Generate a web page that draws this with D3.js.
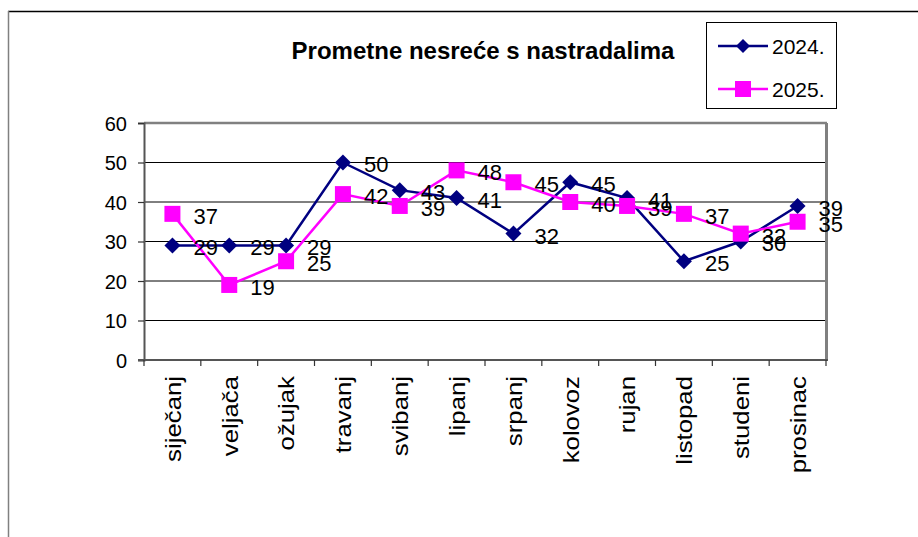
<!DOCTYPE html>
<html><head><meta charset="utf-8">
<script src="https://cdn.jsdelivr.net/npm/d3@7"></script>
<style>
html,body{margin:0;padding:0;background:#fff;}
svg{display:block;font-family:"Liberation Sans",Arial,sans-serif;}
</style></head>
<body><svg id="c" width="918" height="537"></svg>
<script>
const months = ["siječanj","veljača","ožujak","travanj","svibanj","lipanj","srpanj","kolovoz","rujan","listopad","studeni","prosinac"];
const series2024 = [29,29,29,50,43,41,32,45,41,25,30,39];
const series2025 = [37,19,25,42,39,48,45,40,39,37,32,35];
const seriesNames = ["2024.","2025."];
const yTicks = [0,10,20,30,40,50,60];
const title = "Prometne nesreće s nastradalima";

const svg = d3.select("#c");
const L = 144, R = 826, T = 123, B = 360;

// outer frame
svg.append("line").attr("x1",8).attr("x2",918).attr("y1",11.5).attr("y2",11.5).attr("stroke","#000").attr("stroke-width",1.5);
svg.append("line").attr("x1",8.5).attr("x2",8.5).attr("y1",11).attr("y2",537).attr("stroke","#808080").attr("stroke-width",1.5);

const x = d3.scaleBand().domain(months).range([L,R]);
const y = d3.scaleLinear().domain([0,60]).range([B,T]);

// gridlines
svg.append("g").selectAll("line").data(yTicks.filter(v=>v>0&&v<60)).join("line")
  .attr("x1",L).attr("x2",R).attr("y1",d=>y(d)).attr("y2",d=>y(d)).attr("stroke","#000").attr("stroke-width",1);
// plot border top/right gray
svg.append("line").attr("x1",L).attr("x2",R+1).attr("y1",T).attr("y2",T).attr("stroke","#808080").attr("stroke-width",2.5);
svg.append("line").attr("x1",R+0.5).attr("x2",R+0.5).attr("y1",T).attr("y2",B).attr("stroke","#808080").attr("stroke-width",3);

// y axis
const yAxis = d3.axisLeft(y).tickValues(yTicks).tickSize(6).tickPadding(11);
const gy = svg.append("g").attr("transform",`translate(${L},0)`).call(yAxis);
gy.select(".domain").attr("stroke","#555").attr("stroke-width",2);
gy.selectAll(".tick line").attr("stroke","#333").attr("stroke-width",1.2);
gy.selectAll("text").attr("font-size",20).attr("fill","#000").attr("font-family","Liberation Sans, Arial, sans-serif").attr("dy","0.36em");

// x axis
const gx = svg.append("g").attr("transform",`translate(0,${B})`);
gx.append("line").attr("x1",L-6).attr("x2",R+2).attr("y1",0).attr("y2",0).attr("stroke","#555").attr("stroke-width",2);
const bounds = months.map(m=>x(m)).concat([R]);
gx.selectAll("line.tk").data(bounds).join("line").attr("class","tk")
  .attr("x1",d=>d).attr("x2",d=>d).attr("y1",0).attr("y2",6).attr("stroke","#333").attr("stroke-width",1.2);
gx.selectAll("text").data(months).join("text")
  .attr("transform",d=>`translate(${x(d)+x.bandwidth()/2},16) rotate(-90) scale(1.12,1)`)
  .attr("text-anchor","end").attr("dy","0.36em").attr("font-size",23).text(d=>d);

const cx = d => x(d)+x.bandwidth()/2;
const line = d3.line().x((d,i)=>cx(months[i])).y(d=>y(d));

// 2024
svg.append("path").datum(series2024).attr("d",line).attr("fill","none").attr("stroke","#000080").attr("stroke-width",2.5);
svg.append("g").selectAll("path").data(series2024).join("path")
  .attr("transform",(d,i)=>`translate(${cx(months[i])},${y(d)})`)
  .attr("d","M0,-8L8,0L0,8L-8,0Z").attr("fill","#000080");
// 2025
svg.append("path").datum(series2025).attr("d",line).attr("fill","none").attr("stroke","#FF00FF").attr("stroke-width",2.5);
svg.append("g").selectAll("rect").data(series2025).join("rect")
  .attr("x",(d,i)=>cx(months[i])-8).attr("y",d=>y(d)-8).attr("width",16).attr("height",16).attr("fill","#FF00FF");

// data labels
[series2024,series2025].forEach(s=>{
  svg.append("g").selectAll("text").data(s).join("text")
    .attr("x",(d,i)=>cx(months[i])+21).attr("y",d=>y(d)+2)
    .attr("dy","0.36em").attr("font-size",22).attr("fill","#000").text(d=>d);
});

// title
svg.append("text").attr("x",483).attr("y",59).attr("text-anchor","middle")
  .attr("font-size",24).attr("font-weight","bold").text(title);

// legend
const lg = svg.append("g");
lg.append("rect").attr("x",706.5).attr("y",22.5).attr("width",130).attr("height",86).attr("fill","#fff").attr("stroke","#000").attr("stroke-width",1);
const lgY = [46,89];
lg.append("line").attr("x1",718).attr("x2",768).attr("y1",lgY[0]).attr("y2",lgY[0]).attr("stroke","#000080").attr("stroke-width",2.5);
lg.append("path").attr("transform",`translate(743,${lgY[0]})`).attr("d","M0,-7L7,0L0,7L-7,0Z").attr("fill","#000080");
lg.append("line").attr("x1",718).attr("x2",768).attr("y1",lgY[1]).attr("y2",lgY[1]).attr("stroke","#FF00FF").attr("stroke-width",2.5);
lg.append("rect").attr("x",735).attr("y",lgY[1]-8).attr("width",16).attr("height",16).attr("fill","#FF00FF");
lg.selectAll("text.l").data(seriesNames).join("text").attr("class","l")
  .attr("x",772).attr("y",(d,i)=>lgY[i]).attr("dy","0.36em").attr("font-size",21).text(d=>d);
</script></body></html>
